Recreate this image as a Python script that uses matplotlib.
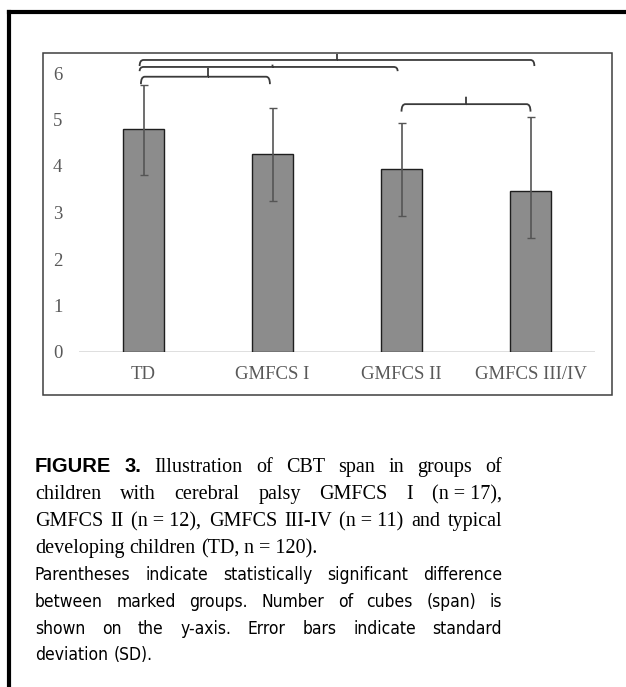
import matplotlib
matplotlib.use("Agg")
import matplotlib.pyplot as plt
from matplotlib.path import Path
from matplotlib.patches import PathPatch, Rectangle
from matplotlib.lines import Line2D
from matplotlib import font_manager as fm

# ---------------- data ----------------
categories = ["TD", "GMFCS I", "GMFCS II", "GMFCS III/IV"]
means = [4.80, 4.25, 3.93, 3.46]
err_lower = [1.00, 1.00, 1.00, 1.01]
err_upper = [0.95, 1.00, 0.99, 1.60]
yticks = [0, 1, 2, 3, 4, 5, 6]
# significance brackets: (group a, group b)
bracket_pairs = [(0, 3), (0, 2), (0, 1), (2, 3)]

caption_lines = [
    [("FIGURE", "bold"), ("3.", "bold"), "Illustration", "of", "CBT", "span", "in", "groups", "of"],
    ["children", "with", "cerebral", "palsy", "GMFCS", "I", "(n = 17),"],
    ["GMFCS", "II", "(n = 12),", "GMFCS", "III-IV", "(n = 11)", "and", "typical"],
    ["developing", "children", "(TD,", "n = 120)."],
]
note_lines = [
    ["Parentheses", "indicate", "statistically", "significant", "difference"],
    ["between", "marked", "groups.", "Number", "of", "cubes", "(span)", "is"],
    ["shown", "on", "the", "y-axis.", "Error", "bars", "indicate", "standard"],
    ["deviation", "(SD)."],
]

# ---------------- figure ----------------
W, H = 626, 687
fig = plt.figure(figsize=(W / 100, H / 100), dpi=100)
fig.patch.set_facecolor("white")

def fx(px):
    return px / W

def fy(py):
    return 1 - py / H

SERIF = "Liberation Serif"
files = [f for f in fm.fontManager.ttflist]
names = {f.name for f in files}
cond = [f for f in files if "condensed" in f.fname.lower() and f.name == "DejaVu Sans"
        and f.weight in (400, "normal") and f.style == "normal"]
if "Liberation Sans Narrow" in names:
    sans_props = dict(family="Liberation Sans Narrow", size=14)
elif cond:
    sans_props = dict(fontproperties=fm.FontProperties(fname=cond[0].fname, size=12.5))
else:
    sans_props = dict(family="Liberation Sans", size=12.5)

# outer frame (top + left thick black lines)
fig.add_artist(Line2D([fx(9), 1.0], [fy(11.5), fy(11.5)], transform=fig.transFigure,
                      color="black", lw=3.0, solid_capstyle="projecting"))
fig.add_artist(Line2D([fx(9), fx(9)], [fy(11.5), 0.0], transform=fig.transFigure,
                      color="black", lw=3.0, solid_capstyle="projecting"))

# chart border box
fig.add_artist(Rectangle((fx(43), fy(395)), (612 - 43) / W, (395 - 53) / H,
                         transform=fig.transFigure, fill=False, ec="#3f3f3f", lw=1.1))

ppu = 46.5  # pixels per y unit
ymax = 6.5
ax = fig.add_axes([fx(79), fy(352), 516 / W, ymax * ppu / H])
ax.set_xlim(-0.5, 3.5)
ax.set_ylim(0, ymax)
for s in ax.spines.values():
    s.set_visible(False)
ax.set_facecolor("none")

x = list(range(len(categories)))
ax.axhline(0, color="#d9d9d9", lw=1.2, zorder=1)
ax.bar(x, means, width=0.32, color="#8c8c8c", edgecolor="#1e1e1e", linewidth=1.0, zorder=2)
ax.errorbar(x, means, yerr=[err_lower, err_upper], fmt="none", ecolor="#555555",
            elinewidth=1.2, capsize=3, capthick=1.0, zorder=3)

ax.set_yticks(yticks)
ax.set_yticklabels([str(t) for t in yticks])
ax.set_xticks(x)
ax.set_xticklabels(categories)
ax.tick_params(axis="y", length=0, pad=12, labelsize=13.5, labelcolor="#595959")
ax.tick_params(axis="x", length=0, pad=10, labelsize=13.5, labelcolor="#595959")
for lab in ax.get_xticklabels() + ax.get_yticklabels():
    lab.set_fontfamily(SERIF)

# brackets (curly braces opening downward)
bracket_style = [  # (level y, hook depth, tick height, end offset)
    (6.28, 0.13, 0.13, 0.03),
    (6.13, 0.09, 0.05, 0.03),
    (5.92, 0.16, 0.19, 0.02),
    (5.33, 0.16, 0.16, 0.00),
]

def brace(a, b, y, hook, tick, off):
    x0 = a - off
    x1 = b + off * (1 if b == 3 else -1)
    xc = (a + b) / 2
    r = 0.03
    verts = [(x0, y - hook), (x0, y), (x0 + r, y), (xc, y), (xc, y + tick),
             (xc, y), (x1 - r, y), (x1, y), (x1, y - hook)]
    codes = [Path.MOVETO, Path.CURVE3, Path.CURVE3, Path.LINETO, Path.LINETO,
             Path.MOVETO, Path.LINETO, Path.CURVE3, Path.CURVE3]
    ax.add_patch(PathPatch(Path(verts, codes), fill=False, ec="#3a3a3a", lw=1.3,
                           clip_on=False, zorder=4))

for (a, b), (yl, hk, tk, off) in zip(bracket_pairs, bracket_style):
    brace(a, b, yl, hk, tk, off)

# ---------------- caption (justified) ----------------
renderer = fig.canvas.get_renderer()
X0, X1 = 35, 502

def place_line(tokens, y_px, default_props, justify=True, space_px=5):
    arts = []
    for tok in tokens:
        if isinstance(tok, tuple):
            t, kind = tok
            props = dict(family="Liberation Sans", weight="bold", size=14.5)
        else:
            t = tok
            props = dict(default_props)
        arts.append(fig.text(0, fy(y_px), t, ha="left", va="baseline", color="black", **props))
    widths = [a.get_window_extent(renderer).width for a in arts]
    if justify and len(arts) > 1:
        gap = (X1 - X0 - sum(widths)) / (len(arts) - 1)
    else:
        gap = space_px
    xpos = X0
    for a, w in zip(arts, widths):
        a.set_x(fx(xpos))
        xpos += w + gap

serif_props = dict(family=SERIF, size=14.5)

cap_y = [472, 499, 526, 553]
for i, (ln, yy) in enumerate(zip(caption_lines, cap_y)):
    place_line(ln, yy, serif_props, justify=(i < len(caption_lines) - 1), space_px=5)

note_y = [580, 607, 634, 660]
for i, (ln, yy) in enumerate(zip(note_lines, note_y)):
    place_line(ln, yy, sans_props, justify=(i < len(note_lines) - 1), space_px=6)

fig.savefig("out.png", dpi=100, facecolor="white")
